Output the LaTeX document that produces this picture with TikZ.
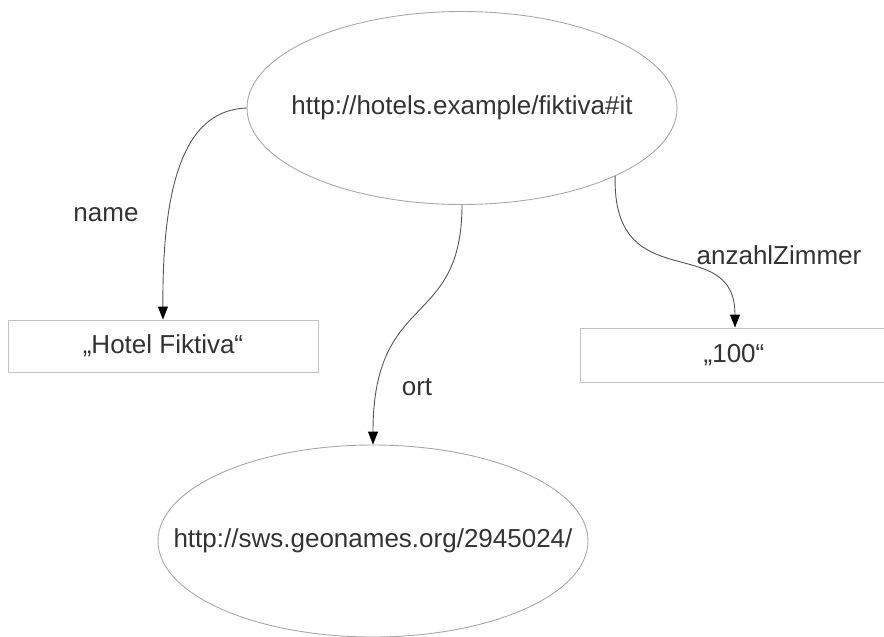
\documentclass[tikz,border=0pt]{standalone}
\usepackage{fontspec}
\setmainfont{Liberation Sans}
\usetikzlibrary{shapes.geometric,arrows.meta}
\definecolor{txt}{HTML}{333333}
\definecolor{shapeline}{HTML}{A8A8A8}
\definecolor{edgeline}{HTML}{555555}
\tikzset{
  res/.style={ellipse, draw=shapeline, line width=0.9pt, inner xsep=-60pt, inner ysep=0pt, text=txt, font=\fontsize{26}{30}\selectfont},
  lit/.style={rectangle, draw=shapeline!70, line width=0.9pt, inner sep=0pt, text=txt, font=\fontsize{26}{30}\selectfont},
  lbl/.style={text=txt, font=\fontsize{26}{30}\selectfont, inner sep=0pt},
  rel/.style={draw=edgeline, line width=0.9pt, -{Triangle[length=13pt,width=10pt,color=black]}}
}
\begin{document}
\begin{tikzpicture}[x=1pt,y=-1pt]
\useasboundingbox (0,0) rectangle (884,637);
\node[res, minimum width=430, minimum height=193] (top) at (462,108) {http://hotels.example/fiktiva\#it};
\node[res, minimum width=430, minimum height=192] (geo) at (373,541) {http://sws.geonames.org/2945024/};
\node[lit, minimum width=310, minimum height=52] (hotel) at (163,346) {„Hotel Fiktiva“};
\node[lit, minimum width=308, minimum height=54] (zimmer) at (734,355) {„100“};
\node[lbl] (lname) at (106,215) {name};
\node[lbl] (lort) at (417,387) {ort};
\node[lbl] (lanz) at (779,255) {anzahlZimmer};
\draw[rel] (top.west) .. controls (190,110) and (162,170) .. (hotel.north);
\draw[rel] (top.south) .. controls (462,330) and (373,290) .. (geo.north);
\draw[rel] (top.-24.5) .. controls (612,300) and (735,230) .. ([xshift=1pt]zimmer.north);
\end{tikzpicture}
\end{document}
